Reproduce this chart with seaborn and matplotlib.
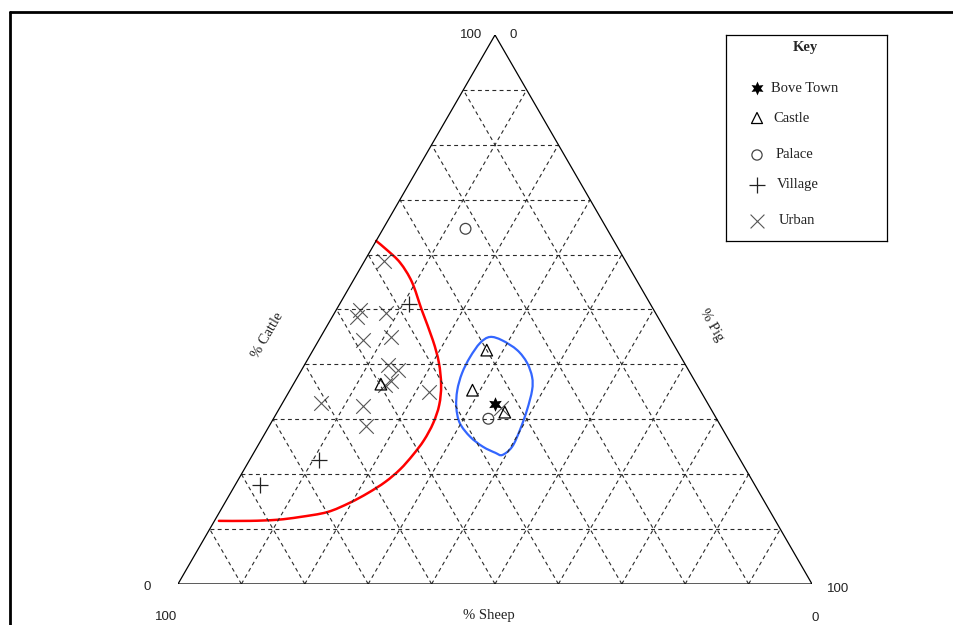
import numpy as np
import pandas as pd
import matplotlib
matplotlib.use("Agg")
import matplotlib.pyplot as plt
import seaborn as sns
from matplotlib.lines import Line2D
from matplotlib.path import Path
from matplotlib.patches import PathPatch

sns.set_style("white")
plt.rcParams['font.family'] = ['Liberation Serif', 'DejaVu Serif']

# sample compositions, % cattle and % pig (sheep makes up the rest)
bove_cattle = [32.8]
bove_pig = [33.6]
castle_cattle = [36.4, 42.6, 35.3, 31.3]
castle_pig = [13.8, 27.4, 28.8, 35.9]
palace_cattle = [64.7, 30.1]
palace_pig = [13.0, 33.9]
village_cattle = [51.0, 22.6, 18.0]
village_pig = [10.9, 10.9, 3.9]
urban_cattle = [58.8, 49.9, 48.6, 49.4, 44.4, 45.0, 39.9, 39.0, 37.0, 36.2,
                35.0, 33.0, 32.4, 28.8, 32.1]
urban_pig = [3.1, 3.8, 3.9, 8.1, 7.0, 11.1, 13.2, 15.2, 15.1, 14.5,
             22.1, 6.1, 13.0, 15.3, 34.9]

# hand drawn groupings (% cattle, % pig)
red_cattle = [62.5, 60.8, 58.5, 55.0, 49.9, 44.4, 40.3, 36.2, 32.6, 29.3, 26.2,
              23.5, 20.9, 18.6, 16.6, 14.8, 13.1, 12.2, 11.7, 11.5, 11.5]
red_pig = [0.0, 2.6, 5.8, 9.4, 13.5, 18.0, 21.0, 23.4, 24.9, 25.6, 25.7,
           25.3, 24.6, 23.4, 21.7, 19.7, 17.0, 13.1, 9.8, 5.6, 0.7]
blue_cattle = [45.0, 44.4, 42.6, 40.3, 37.7, 35.3, 31.7, 28.1, 25.0, 23.5, 23.9,
               25.0, 26.8, 29.3, 32.2, 35.3, 38.4, 41.3, 43.9]
blue_pig = [26.7, 28.9, 32.2, 34.9, 37.0, 38.2, 39.2, 39.9, 40.2, 39.4, 38.1,
            35.6, 32.7, 29.8, 27.8, 26.4, 25.6, 25.4, 25.7]

groups = ['Bove Town', 'Castle', 'Palace', 'Village', 'Urban']


def tern_xy(cattle, pig):
    c = np.asarray(cattle, dtype=float) / 100
    p = np.asarray(pig, dtype=float) / 100
    return p + c / 2, c * np.sqrt(3) / 2


def smooth_patch(x, y, closed=False, **kw):
    # bezier path through the traced points (catmull-rom control points)
    pts = np.column_stack([x, y])
    n = len(pts)
    verts, codes = [pts[0]], [Path.MOVETO]
    for i in range(n if closed else n - 1):
        p0 = pts[(i - 1) % n] if (closed or i > 0) else pts[i]
        p1 = pts[i]
        p2 = pts[(i + 1) % n]
        p3 = pts[(i + 2) % n] if (closed or i + 2 < n) else p2
        verts += [p1 + (p2 - p0) / 6, p2 - (p3 - p1) / 6, p2]
        codes += [Path.CURVE4] * 3
    return PathPatch(Path(verts, codes), fill=False, **kw)


W, H = 954, 625
fig = plt.figure(figsize=(W / 100, H / 100), dpi=100)
ax = fig.add_axes([178 / W, 41 / H, 634 / W, 549 / H])
ax.set_xlim(0, 1)
ax.set_ylim(0, np.sqrt(3) / 2)
ax.axis('off')

# dashed 10% grid
for k in range(1, 10):
    f = k * 10
    for cc, pp in [([f, f], [0, 100 - f]),
                   ([0, 100 - f], [f, f]),
                   ([0, 100 - f], [100 - f, 0])]:
        gx, gy = tern_xy(cc, pp)
        ax.plot(gx, gy, color='#2a2a2a', lw=0.8, ls=(0, (3.5, 3)))

tx, ty = tern_xy([100, 0, 0, 100], [0, 0, 100, 0])
ax.plot(tx, ty, color='black', lw=0.9)

# curves
rx, ry = tern_xy(red_cattle, red_pig)
ax.add_patch(smooth_patch(rx, ry, edgecolor='#ff0000', lw=1.8, capstyle='round'))
bx, by = tern_xy(blue_cattle, blue_pig)
ax.add_patch(smooth_patch(bx, by, closed=True, edgecolor='#3366ff', lw=1.6))

# points
styles = {
    'Bove Town': dict(marker=(6, 1, 0), color='black', s=110, linewidth=0),
    'Castle': dict(marker='^', facecolor='none', edgecolor='black', s=70, linewidth=0.9),
    'Palace': dict(marker='o', facecolor='none', edgecolor='#444444', s=60, linewidth=0.9),
    'Village': dict(marker='+', color='#222222', s=130, linewidth=0.9),
    'Urban': dict(marker='x', color='#555555', s=110, linewidth=0.8),
}
data = {
    'Bove Town': (bove_cattle, bove_pig),
    'Castle': (castle_cattle, castle_pig),
    'Palace': (palace_cattle, palace_pig),
    'Village': (village_cattle, village_pig),
    'Urban': (urban_cattle, urban_pig),
}
for g in ['Urban', 'Village', 'Palace', 'Castle', 'Bove Town']:
    cx, cy = tern_xy(*data[g])
    df = pd.DataFrame({'x': cx, 'y': cy})
    sns.scatterplot(data=df, x='x', y='y', ax=ax, legend=False, **styles[g])

# key box, drawn in its own pixel-sized axes
kax = fig.add_axes([726 / W, 1 - 241 / H, 161 / W, 206 / H])
kax.set_xlim(0, 161)
kax.set_ylim(206, 0)
kax.set_xticks([])
kax.set_yticks([])
for sp in kax.spines.values():
    sp.set_visible(True)
    sp.set_color('black')
    sp.set_linewidth(0.9)
kax.text(79, 12, 'Key', ha='center', va='center', fontsize=10.5, weight='bold')
key_y = [53, 83, 120, 150, 186]
key_tx = [45, 47, 50, 51, 53]
for g, yy, xx in zip(groups, key_y, key_tx):
    st = dict(styles[g])
    st['s'] = st['s'] * 0.9
    kax.scatter([31], [yy], **st)
    kax.text(xx, yy, g, ha='left', va='center', fontsize=10.5, color='#222222')

# axis labels
def ftext(x, y, s, **kw):
    fig.text(x / W, 1 - y / H, s, ha='center', va='center', color='#222222', **kw)

num = dict(family=['Liberation Sans', 'DejaVu Sans'], fontsize=9.5)
ftext(471, 35, '100', **num)
ftext(513, 35, '0', **num)
ftext(147, 587, '0', **num)
ftext(838, 589, '100', **num)
ftext(166, 617, '100', **num)
ftext(815, 618, '0', **num)
ftext(489, 615, '% Sheep', fontsize=10.5)
ftext(268, 335, '% Cattle', fontsize=10.5, rotation=60)
ftext(711, 325, '% Pig', fontsize=10.5, rotation=-60)

# outer frame
fig.add_artist(Line2D([10 / W, 10 / W], [0, 1 - 12 / H], transform=fig.transFigure,
                      color='black', lw=2))
fig.add_artist(Line2D([10 / W, 1], [1 - 12 / H, 1 - 12 / H], transform=fig.transFigure,
                      color='black', lw=2))

fig.savefig('out.png', dpi=100)
